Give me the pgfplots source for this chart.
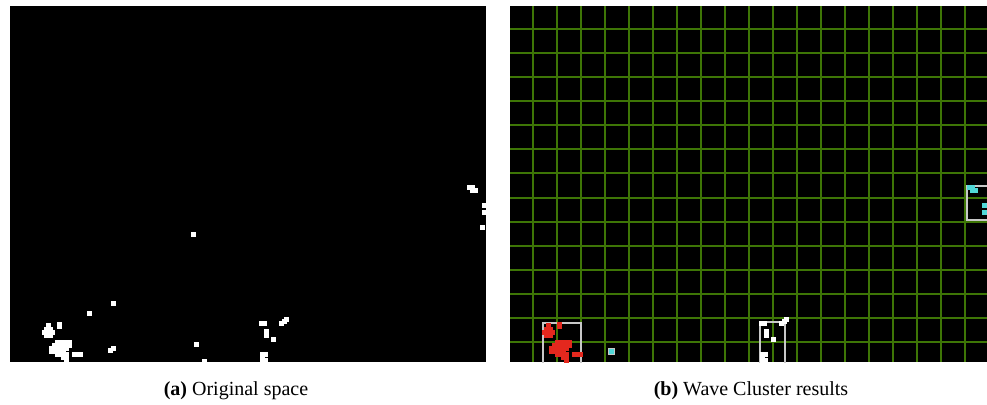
\documentclass[border=0pt]{standalone}
\usepackage{pgfplots}
\pgfplotsset{compat=1.18}
\usepackage{pgfplotstable}
\usepackage{fontspec}
\setmainfont{Liberation Serif}
\definecolor{gridgreen}{RGB}{62,118,6}
\definecolor{ptred}{RGB}{228,40,30}
\definecolor{ptcyan}{RGB}{80,215,215}
\definecolor{boxgray}{RGB}{200,200,200}

% cluster 1 (red in b)
\pgfplotstableread{
x y
48 325
46 329
50 329
44 332
48 332
52 332
46 335
50 335
59 324
59 326
57 342
60 342
63 342
66 342
69 342
54 345
57 345
60 345
63 345
66 345
69 345
51 348
54 348
57 348
60 348
63 348
66 348
51 351
54 351
57 351
60 351
63 351
57 354
60 354
63 354
66 354
63 357
66 357
66 360
74 354
77 354
80 354
}\clusterA
% small isolated cluster (cyan box in b)
\pgfplotstableread{
x y
110 350
113 348
}\clusterB
% cluster 3 (white in b)
\pgfplotstableread{
x y
261 323
264 323
281 323
284 321
286 319
266 331
266 335
273 339
262 354
265 354
262 357
262 360
265 360
}\clusterC
% cluster 4 (cyan in b)
\pgfplotstableread{
x y
469 187
472 187
472 190
475 190
484 205
484 212
}\clusterD
% noise
\pgfplotstableread{
x y
113 303
89 313
193 234
196 344
204 361
482 227
}\noise

\begin{document}
\begin{tikzpicture}
\pgfplotsset{panel/.style={
  scale only axis, y dir=reverse,
  ymin=6, ymax=362,
  height=356pt,
  axis background/.style={fill=black},
  axis line style={draw=none},
  tick style={draw=none},
  xticklabels={}, yticklabels={},
  clip=true,
}}
\begin{axis}[panel, at={(10pt,-6pt)}, anchor=north west,
  width=476pt, xmin=10, xmax=486, xtick=\empty, ytick=\empty]
\addplot[only marks, mark=square*, mark size=2pt, white] table {\clusterA};
\addplot[only marks, mark=square*, mark size=2pt, white] table {\clusterB};
\addplot[only marks, mark=square*, mark size=2pt, white] table {\clusterC};
\addplot[only marks, mark=square*, mark size=2pt, white] table {\clusterD};
\addplot[only marks, mark=square*, mark size=2pt, white] table {\noise};
\end{axis}
\begin{axis}[panel, at={(510pt,-6pt)}, anchor=north west,
  width=477pt, xmin=510, xmax=987,
  xtick={533,557,581,605,629,653,677,701,725,749,773,797,821,845,869,893,917,941,965},
  ytick={29,53,77,101,125,149,173,198,222,246,270,294,318,342},
  grid=major, major grid style={gridgreen, line width=1.6pt}]
\addplot[boxgray, line width=1.4pt] coordinates {(543,364) (543,323) (581,323) (581,364)};
\addplot[boxgray, line width=1.4pt] coordinates {(760,364) (760,322) (785,322) (785,364)};
\addplot[boxgray, line width=1.4pt] coordinates {(992,186) (967,186) (967,220) (992,220)};
\addplot[only marks, mark=square*, mark size=2pt, ptred] table[x expr=\thisrowno{0}+500, y index=1] {\clusterA};
\addplot[only marks, mark=square*, mark size=3pt, draw=boxgray, fill=ptcyan, mark options={line width=1pt}] coordinates {(611,351)};
\addplot[only marks, mark=square*, mark size=2pt, white] table[x expr=\thisrowno{0}+500, y index=1] {\clusterC};
\addplot[only marks, mark=square*, mark size=2pt, ptcyan] table[x expr=\thisrowno{0}+500, y index=1] {\clusterD};
\end{axis}
\node[font=\fontsize{20}{24}\selectfont] at (236pt,-391pt) {\textbf{(a)} Original space};
\node[font=\fontsize{20}{24}\selectfont] at (751pt,-391pt) {\textbf{(b)} Wave Cluster results};
\pgfresetboundingbox
\useasboundingbox (0,0) rectangle (987pt,-404pt);
\end{tikzpicture}
\end{document}
